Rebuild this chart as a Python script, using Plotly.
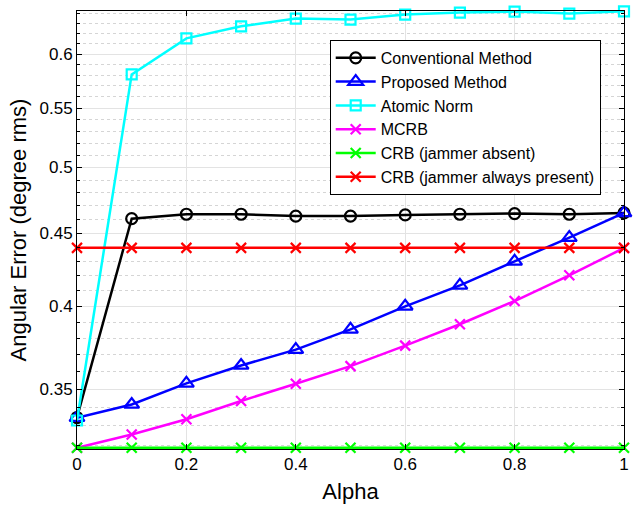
import plotly.graph_objects as go
import numpy as np

alpha = [0, 0.1, 0.2, 0.3, 0.4, 0.5, 0.6, 0.7, 0.8, 0.9, 1.0]
conventional = [0.3345, 0.4605, 0.4638, 0.4638, 0.4624, 0.4624, 0.4633, 0.4638, 0.4643, 0.4638, 0.4648]
proposed = [0.3344, 0.3416, 0.3534, 0.3637, 0.3731, 0.3854, 0.4000, 0.4137, 0.4300, 0.4467, 0.4648]
atomic = [0.3329, 0.5807, 0.6153, 0.6274, 0.6352, 0.6342, 0.6393, 0.6414, 0.6424, 0.6403, 0.6427]
mcrb = [0.3186, 0.3255, 0.3336, 0.3435, 0.3532, 0.3633, 0.3755, 0.3886, 0.4034, 0.4204, 0.4393]
crb_absent = [0.3186] * 11
crb_present = [0.4394] * 11

y_ticks = [0.35, 0.4, 0.45, 0.5, 0.55, 0.6]
y_ticktext = ["0.35", "0.4", "0.45", "0.5", "0.55", "0.6"]
y_minor = [round(0.32 + 0.01 * i, 2) for i in range(33)]
x_ticks = [0, 0.2, 0.4, 0.6, 0.8, 1]
x_ticktext = ["0", "0.2", "0.4", "0.6", "0.8", "1"]

series = [
    ("Conventional Method", conventional, "black", "circle-open", 11),
    ("Proposed Method", proposed, "blue", "triangle-up-open", 13),
    ("Atomic Norm", atomic, "cyan", "square-open", 10),
    ("MCRB", mcrb, "magenta", "x-thin-open", 10),
    ("CRB (jammer absent)", crb_absent, "lime", "x-thin-open", 10),
    ("CRB (jammer always present)", crb_present, "red", "x-thin-open", 10),
]

fig = go.Figure()
for name, vals, col, sym, sz in series:
    fig.add_trace(go.Scatter(
        x=alpha, y=vals, name=name, mode="lines+markers",
        line=dict(color=col, width=2.5),
        marker=dict(symbol=sym, size=sz, color=col, line=dict(color=col, width=2.2)),
        cliponaxis=False,
    ))

font = "Liberation Sans, Arial, Helvetica, sans-serif"
fig.update_layout(
    width=637, height=510,
    margin=dict(l=77, r=8, t=11, b=61),
    paper_bgcolor="white", plot_bgcolor="white",
    font=dict(family=font, size=17, color="black"),
    showlegend=True,
    legend=dict(
        x=0.462, y=0.934, xanchor="left", yanchor="top",
        bgcolor="white", bordercolor="black", borderwidth=1,
        font=dict(size=16, family=font), tracegroupgap=0,
        itemwidth=40,
    ),
    xaxis=dict(
        range=[0, 1], tickvals=x_ticks, ticktext=x_ticktext,
        showline=True, linecolor="black", linewidth=1, mirror="ticks",
        ticks="inside", ticklen=5, tickcolor="black",
        showgrid=True, gridcolor="#e3e3e3", gridwidth=1,
        zeroline=False,
        title=dict(text="Alpha", font=dict(size=22, family=font), standoff=10),
        tickfont=dict(size=17),
    ),
    yaxis=dict(
        type="log", range=[np.log10(0.318), np.log10(0.643)],
        tickvals=y_ticks, ticktext=y_ticktext,
        showline=True, linecolor="black", linewidth=1, mirror="ticks",
        ticks="inside", ticklen=5, tickcolor="black",
        showgrid=True, gridcolor="#e3e3e3", gridwidth=1,
        zeroline=False,
        minor=dict(tickvals=y_minor, ticks="inside", ticklen=3, tickcolor="black",
                   showgrid=True, gridcolor="#d5d5d5", griddash="dot", gridwidth=1),
        title=dict(text="Angular Error (degree rms)", font=dict(size=22, family=font), standoff=6),
        tickfont=dict(size=17),
    ),
)

fig.write_html("out.html")
